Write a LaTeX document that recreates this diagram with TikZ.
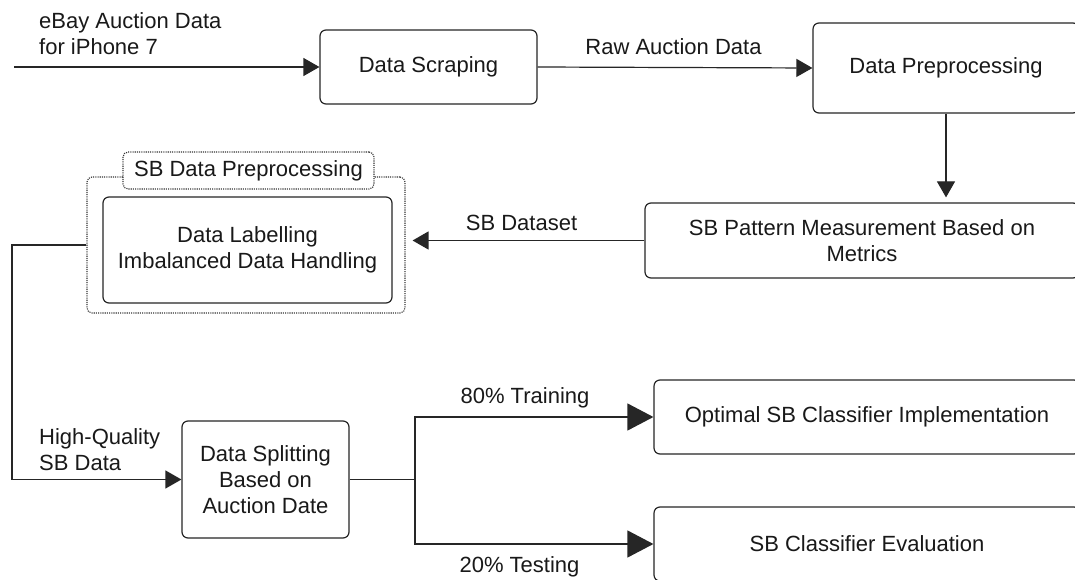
\documentclass[tikz,border=0pt]{standalone}
\usepackage{fontspec}
\setmainfont{Liberation Sans}
\usetikzlibrary{arrows.meta}
\begin{document}
\begin{tikzpicture}[x={(1pt,0)}, y={(0,-1pt)},
  every node/.style={font=\fontsize{22pt}{26pt}\selectfont, inner sep=0pt, text=black!90},
  box/.style={draw=black!85, line width=1.2pt, rounded corners=6pt, fill=white, align=center},
  dotbox/.style={draw=black!80, line width=1.1pt, rounded corners=5pt, dash pattern=on 1.1pt off 1.1pt, fill=white},
  conn/.style={draw=black!85, line width=1.2pt},
  sarrow/.style={conn, -{Triangle[length=16pt, width=18pt]}},
  barrow/.style={conn, -{Triangle[length=26pt, width=27pt]}},
  lbl/.style={align=left}
]
\useasboundingbox (0,0) rectangle (1075,580);
\clip (0,0) rectangle (1075,580);
\fill[white] (0,0) rectangle (1075,580);

% main boxes
\node[box, minimum width=217pt, minimum height=74pt] (scrape) at (428.5,67) {Data Scraping};
\node[box, minimum width=266pt, minimum height=90pt] (prep) at (946,68) {Data Preprocessing};
\node[box, minimum width=434pt, minimum height=75pt] (pattern) at (862,240.5) {SB Pattern Measurement Based on\\Metrics};

% group
\node[dotbox, minimum width=318pt, minimum height=136pt] (group) at (246,245) {};
\node[dotbox, minimum width=251pt, minimum height=37pt] (gtitle) at (248.5,170.5) {SB Data Preprocessing};
\node[box, minimum width=289pt, minimum height=106pt] (label) at (247.5,250) {Data Labelling\\Imbalanced Data Handling};

\node[box, minimum width=167pt, minimum height=117pt] (split) at (265.5,479.5) {Data Splitting\\Based on\\Auction Date};
\node[box, minimum width=426pt, minimum height=74pt] (optimal) at (867,417) {Optimal SB Classifier Implementation};
\node[box, minimum width=426pt, minimum height=74pt] (eval) at (867,544) {SB Classifier Evaluation};

% connectors
\coordinate (in) at (14,67);
\draw[sarrow] (in) -- (scrape.west);
\node[lbl, anchor=west] (inlbl) at (39,33.5) {eBay Auction Data\\for iPhone 7};

\draw[sarrow] (scrape.east) -- (prep.west);
\node (rawlbl) at (673.5,47) {Raw Auction Data};

\draw[sarrow, shorten >=5pt] (prep.south) -- (prep.south |- pattern.north);

\draw[sarrow, shorten >=7pt] (pattern.west) -- (pattern.west -| group.east);
\node (sblbl) at (521.5,223) {SB Dataset};

\coordinate (corner) at (12,245);
\draw[sarrow] (group.west) -- (corner) |- (split.west);
\node[lbl, anchor=west] (hqlbl) at (39,449.5) {High-Quality\\SB Data};

\coordinate (fork) at (415,479.5);
\draw[conn] (split.east) -- (fork);
\draw[barrow] (fork) |- (optimal.west);
\draw[barrow] (fork) |- (eval.west);
\node (trlbl) at (525,398) {80\% Training};
\node (telbl) at (519.5,567) {20\% Testing};
\end{tikzpicture}
\end{document}
